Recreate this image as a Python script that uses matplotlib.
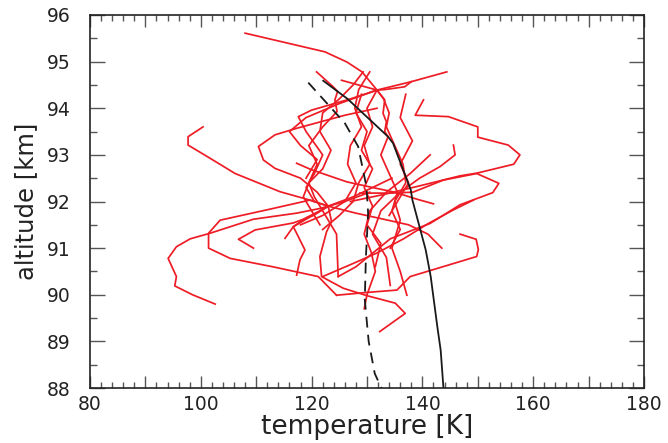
import matplotlib
matplotlib.use("Agg")
import matplotlib.pyplot as plt
from matplotlib.ticker import MultipleLocator, FuncFormatter

# reference profiles (black)
mean_T = [122.1, 126.5, 133.8, 134.7, 137.9, 138.2, 140.6, 141.5, 142.7, 143.3, 143.8]
mean_alt = [94.59, 94.2, 93.39, 93.25, 92.25, 92.03, 90.96, 90.39, 89.31, 88.81, 88.0]
model_T = [119.4, 126.0, 128.4, 129.9, 130.2, 129.8, 129.6, 130.3, 131.4, 132.6]
model_alt = [94.55, 93.68, 93.18, 92.32, 91.75, 90.8, 89.89, 89.0, 88.31, 88.0]

# individual temperature profiles (red), (T, altitude)
prof_T = [
    [102.6, 98.5, 95.3, 95.6, 94.1, 95.6, 98.1, 101.7, 109.5, 117.3, 121.5, 123.0],
    [100.4, 97.7, 97.7, 100.8, 106.2, 114.3, 119.7, 123.0, 128.0, 133.0, 137.5, 141.0, 143.5],
    [124.5, 121.2, 113.0, 105.3, 101.4, 101.4, 103.5, 111.9, 119.7, 123.0],
    [109.5, 106.8, 109.8, 116.7, 120.3, 123.0, 126.0, 130.5],
    [131.8, 126.0, 117.3, 113.4, 110.4, 111.3, 113.4, 118.0, 121.0, 123.0],
    [123.0, 123.6, 122.7, 121.5, 121.8, 125.7, 130.0, 135.1, 136.9, 132.3],
    [115.2, 116.7, 120.9, 123.0, 127.5, 131.0, 134.5],
    [117.3, 117.9, 118.8, 116.7, 119.0, 121.5, 123.0],
    [108.0, 122.4, 126.4, 129.1, 131.8, 133.2, 132.9, 133.5, 133.2, 133.8, 132.5, 134.0, 135.5, 134.5, 136.0, 134.2],
    [120.9, 123.9, 124.7, 124.2, 124.6, 122.0, 119.5, 121.0, 119.5, 120.5, 122.5, 124.5, 124.8],
    [125.4, 131.8, 127.0, 120.0, 117.6, 119.0, 122.0, 120.5, 119.0, 120.5],
    [144.4, 138.0, 131.8, 125.0, 119.0, 116.0, 118.0, 121.0, 119.0],
    [138.0, 136.8, 133.2, 131.8, 133.0, 134.0, 133.5, 135.0, 136.5, 137.0, 135.0, 136.0, 134.5, 136.0, 137.2],
    [140.2, 138.7, 144.7, 150.0, 150.0, 155.5, 157.6, 156.5, 149.9, 146.8, 140.0, 133.0, 127.0],
    [128.7, 134.2, 138.3, 143.8, 149.8, 153.8, 152.7, 146.8, 141.4, 134.2, 128.0, 124.8],
    [122.0, 126.9, 131.7, 136.6, 141.1, 145.6, 149.2],
    [124.5, 130.0, 135.4, 137.8, 149.8, 150.1, 149.7, 146.8],
    [145.6, 145.9, 143.2, 139.5, 136.0, 132.5, 131.0, 133.5, 134.2],
    [141.4, 137.8, 133.5, 130.5, 129.5, 130.8, 131.5, 130.0, 129.5],
    [131.8, 130.0, 131.0, 129.5, 130.5, 128.5, 127.5, 125.0, 122.0],
    [130.5, 128.5, 127.8, 129.0, 127.0, 126.5, 128.0, 126.0, 122.0, 118.0],
    [117.3, 120.0, 126.4, 131.0, 135.0, 139.0, 142.0],
    [129.3, 127.5, 125.0, 122.0, 121.5, 123.5, 122.0, 119.5, 118.5, 120.0, 121.5],
    [129.0, 128.0, 130.0, 129.0, 131.0, 129.5, 131.0, 130.0, 132.5, 131.5],
    [137.0, 136.0, 138.2, 136.0, 137.5, 135.5, 134.0],
]
prof_alt = [
    [89.8, 90.0, 90.19, 90.39, 90.78, 91.03, 91.2, 91.32, 91.62, 91.75, 91.85, 91.9],
    [93.6, 93.39, 93.21, 92.99, 92.6, 92.21, 92.03, 91.9, 91.75, 91.62, 91.5, 91.3, 91.0],
    [89.99, 90.39, 90.6, 90.78, 91.0, 91.32, 91.6, 91.82, 92.03, 91.9],
    [91.0, 91.19, 91.39, 91.54, 91.7, 91.9, 92.0, 92.2],
    [94.0, 93.85, 93.57, 93.43, 93.18, 92.89, 92.71, 92.5, 92.2, 91.9],
    [91.9, 91.57, 91.35, 90.82, 90.39, 90.14, 89.98, 89.82, 89.6, 89.21],
    [91.21, 91.46, 91.75, 91.9, 92.1, 92.3, 92.5],
    [90.42, 90.75, 90.96, 91.46, 91.65, 91.8, 91.9],
    [95.61, 95.21, 94.99, 94.78, 94.39, 94.18, 93.89, 93.71, 93.5, 93.39, 93.0, 92.6, 92.2, 91.8, 91.4, 91.0],
    [94.78, 94.46, 94.36, 94.18, 93.93, 93.6, 93.2, 92.8, 92.4, 92.1, 91.7, 91.3, 90.39],
    [94.6, 94.39, 94.2, 93.96, 93.82, 93.5, 93.0, 92.6, 92.3, 92.0],
    [94.78, 94.57, 94.39, 94.1, 93.8, 93.5, 93.2, 92.9, 92.5],
    [94.57, 94.46, 94.4, 94.39, 94.2, 93.9, 93.6, 93.2, 92.8, 92.4, 92.0, 91.6, 91.0, 90.5, 89.99],
    [94.18, 93.85, 93.82, 93.6, 93.38, 93.21, 93.0, 92.8, 92.61, 92.55, 92.35, 92.15, 92.0],
    [92.18, 92.18, 92.2, 92.46, 92.6, 92.39, 92.19, 91.93, 91.53, 91.2, 90.6, 90.39],
    [90.39, 90.64, 90.89, 91.2, 91.53, 91.82, 92.03],
    [89.99, 90.05, 90.1, 90.39, 90.82, 90.97, 91.19, 91.3],
    [93.21, 93.0, 92.75, 92.5, 92.2, 91.8, 91.3, 90.8, 90.2],
    [93.0, 92.6, 92.2, 91.8, 91.3, 90.9, 90.5, 90.0, 89.7],
    [94.39, 94.0, 93.6, 93.2, 92.8, 92.4, 92.0, 91.7, 91.4],
    [94.78, 94.4, 94.0, 93.6, 93.2, 92.8, 92.4, 92.0, 91.7, 91.5],
    [92.82, 92.68, 92.42, 92.3, 92.2, 92.05, 91.95],
    [94.78, 94.5, 94.2, 93.9, 93.5, 93.1, 92.7, 92.4, 92.1, 91.8, 91.5],
    [94.3, 93.9, 93.5, 93.1, 92.7, 92.3, 91.9, 91.5, 91.1, 90.6],
    [94.3, 93.8, 93.3, 92.8, 92.4, 92.0, 91.7],
]

plt.rcParams['font.family'] = 'DejaVu Sans'
fig = plt.figure(figsize=(6.68, 4.43), dpi=100)
ax = fig.add_axes([90 / 668, 55 / 443, 554 / 668, 373 / 443])

red = '#ee1c25'
for t, a in zip(prof_T, prof_alt):
    ax.plot(t, a, color=red, lw=1.25)
ax.plot(mean_T, mean_alt, color='#1a1a1a', lw=1.3)
ax.plot(model_T, model_alt, color='#1a1a1a', lw=1.3, dashes=(6, 4))

ax.set_xlim(80, 180)
ax.set_ylim(88, 96)
ax.xaxis.set_major_locator(MultipleLocator(10))
ax.xaxis.set_minor_locator(MultipleLocator(2))
ax.xaxis.set_major_formatter(FuncFormatter(lambda v, p: '%d' % v if int(round(v)) % 20 == 0 else ''))
ax.yaxis.set_major_locator(MultipleLocator(1))
ax.yaxis.set_minor_locator(MultipleLocator(0.5))

ax.tick_params(axis='both', which='both', direction='in', top=True, right=True,
               color='#555555', labelsize=13.5, labelcolor='#222222')
ax.tick_params(axis='x', which='major', length=8.5, width=1.0, pad=5)
ax.tick_params(axis='x', which='minor', length=4, width=1.0)
ax.tick_params(axis='y', which='major', length=11, width=1.0, pad=14)
ax.tick_params(axis='y', which='minor', length=5, width=1.0)
for s in ax.spines.values():
    s.set_color('#222222')
    s.set_linewidth(1.2)

ax.set_xlabel('temperature [K]', fontsize=19, color='#222222', labelpad=0)
ax.set_ylabel('altitude [km]', fontsize=17.5, color='#222222', labelpad=6)

fig.savefig('out.png', dpi=100)
